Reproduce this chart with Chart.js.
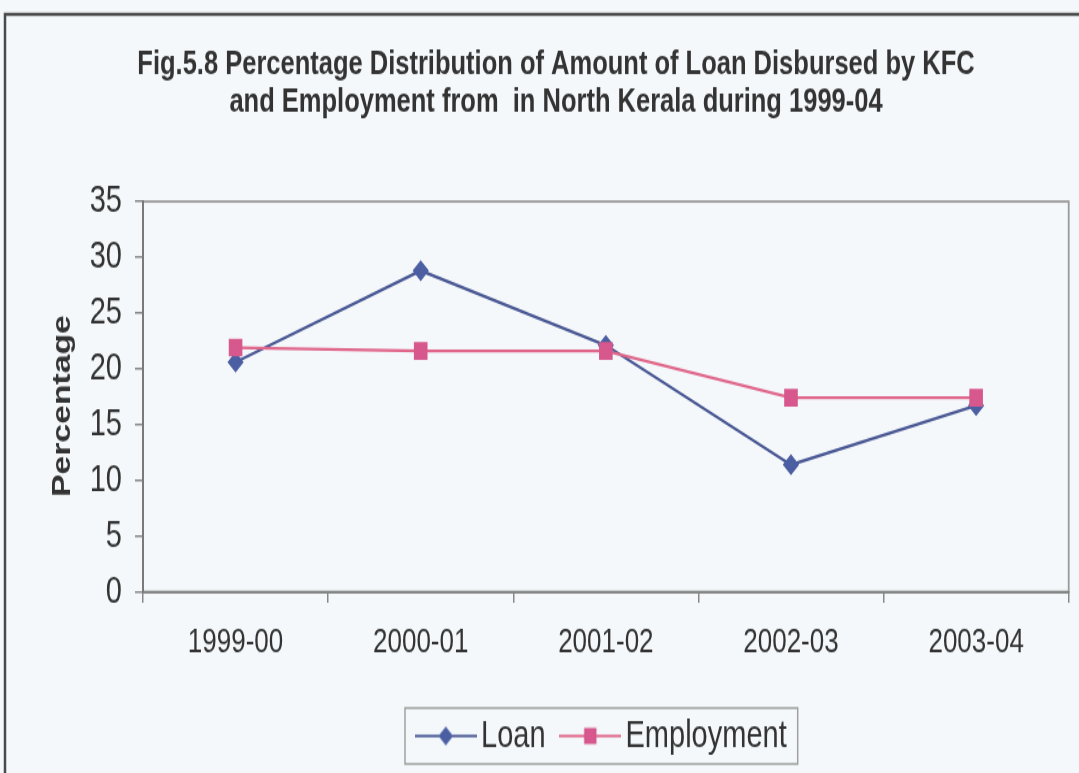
<!DOCTYPE html>
<html>
<head>
<meta charset="utf-8">
<script src="https://cdn.jsdelivr.net/npm/chart.js@4/dist/chart.umd.min.js"></script>
<style>
  html, body { margin: 0; padding: 0; background: #f4f8fb; overflow: hidden; }
  /* the scanned figure is stretched vertically (~1.3x), so the canvas is drawn
     at 1079x595 and shown at 1079x773 */
  #chart { display: block; width: 1079px; height: 773px; }
</style>
</head>
<body>
<canvas id="chart" width="1079" height="595" style="width:1079px;height:773px"></canvas>
<script>
// data
const years = ['1999-00', '2000-01', '2001-02', '2002-03', '2003-04'];
const loanPct = [20.6, 28.8, 22.1, 11.4, 16.7];
const employmentPct = [21.9, 21.6, 21.6, 17.4, 17.4];
const titleLines = [
    'Fig.5.8 Percentage Distribution of Amount of Loan Disbursed by KFC',
    'and Employment from  in North Kerala during 1999-04'
];

const LOAN_LINE = '#4a5894';
const LOAN_MARK = '#4c5fa3';
const EMP_LINE = '#e0668a';
const EMP_MARK = '#d6588d';
const TEXT = '#333333';
const FONT = '"Liberation Sans", Arial, sans-serif';

// little line+marker swatch for the legend, like Excel draws it
function legendSwatch(lineColor, markColor, style, radius) {
    const c = document.createElement('canvas');
    c.width = 62;
    c.height = 18;
    const g = c.getContext('2d');
    g.strokeStyle = lineColor;
    g.lineWidth = 1.8;
    g.beginPath();
    g.moveTo(0, 9);
    g.lineTo(62, 9);
    g.stroke();
    g.fillStyle = markColor;
    g.strokeStyle = markColor;
    Chart.helpers.drawPoint(g, { pointStyle: style, radius: radius, borderWidth: 1, rotation: 0 }, 31, 9);
    return c;
}

const frame = {
    id: 'frame',
    beforeDraw(chart) {
        const ctx = chart.ctx;
        ctx.save();
        ctx.fillStyle = '#f4f8fb';
        ctx.fillRect(0, 0, chart.width, chart.height);
        // outer chart border (only top and left are in the photo)
        ctx.strokeStyle = '#4a4a4a';
        ctx.lineWidth = 2.5;
        ctx.beginPath();
        ctx.moveTo(5, chart.height + 5);
        ctx.lineTo(5, 11);
        ctx.lineTo(chart.width + 5, 11);
        ctx.stroke();
        // plot area border
        const a = chart.chartArea;
        ctx.strokeStyle = '#9a9a9a';
        ctx.lineWidth = 1.8;
        ctx.strokeRect(a.left, a.top, a.right - a.left, a.bottom - a.top);
        ctx.restore();
    },
    afterDraw(chart) {
        const lg = chart.legend;
        if (!lg || !lg.legendHitBoxes.length) return;
        const boxes = lg.legendHitBoxes;
        const l = Math.min(...boxes.map(b => b.left)) - 20;
        const r = Math.max(...boxes.map(b => b.left + b.width)) + 11;
        const t = Math.min(...boxes.map(b => b.top)) - 7;
        const bt = Math.max(...boxes.map(b => b.top + b.height)) + 7;
        const ctx = chart.ctx;
        ctx.save();
        ctx.strokeStyle = '#a0a0a0';
        ctx.lineWidth = 1.5;
        ctx.strokeRect(l, t, r - l, bt - t);
        ctx.restore();
    }
};

const swatches = [
    legendSwatch(LOAN_LINE, LOAN_MARK, 'rectRot', 6),
    legendSwatch(EMP_LINE, EMP_MARK, 'rect', 7.5)
];

new Chart(document.getElementById('chart'), {
    type: 'line',
    data: {
        labels: years,
        datasets: [
            {
                label: 'Loan',
                data: loanPct,
                borderColor: LOAN_LINE,
                backgroundColor: LOAN_MARK,
                borderWidth: 2.3,
                pointStyle: 'rectRot',
                pointRadius: 6.5,
                pointBackgroundColor: LOAN_MARK,
                pointBorderColor: LOAN_MARK,
                tension: 0,
                order: 1
            },
            {
                label: 'Employment',
                data: employmentPct,
                borderColor: EMP_LINE,
                backgroundColor: EMP_MARK,
                borderWidth: 2.3,
                pointStyle: 'rect',
                pointRadius: 8,
                pointBackgroundColor: EMP_MARK,
                pointBorderColor: EMP_MARK,
                tension: 0,
                order: 0
            }
        ]
    },
    options: {
        responsive: false,
        animation: false,
        devicePixelRatio: 1,
        layout: { padding: { top: 0, left: 43, right: 10, bottom: 4 } },
        plugins: {
            title: {
                display: true,
                text: titleLines,
                color: TEXT,
                font: { family: FONT, size: 25.5, weight: 'bold', lineHeight: 1.12 },
                padding: { top: 36, bottom: 62 }
            },
            legend: {
                position: 'bottom',
                fullSize: false,
                labels: {
                    color: TEXT,
                    font: { family: FONT, size: 29 },
                    usePointStyle: true,
                    pointStyleWidth: 41.5,
                    padding: 24,
                    sort: (a, b) => a.datasetIndex - b.datasetIndex,
                    generateLabels(chart) {
                        const items = Chart.defaults.plugins.legend.labels.generateLabels(chart);
                        items.forEach(it => { it.pointStyle = swatches[it.datasetIndex]; });
                        return items;
                    }
                }
            },
            tooltip: { enabled: false }
        },
        scales: {
            x: {
                offset: true,
                afterFit(scale) { scale.height = 72.5; },
                grid: {
                    offset: true,
                    drawOnChartArea: false,
                    drawTicks: true,
                    tickLength: 8.5,
                    color: '#888888',
                    lineWidth: 1.5
                },
                border: { color: '#7a7a7a', width: 1.8 },
                ticks: {
                    color: TEXT,
                    padding: 15,
                    font: { family: FONT, size: 26 },
                    maxRotation: 0
                }
            },
            y: {
                min: 0,
                max: 35,
                afterFit(scale) { scale.width = 100; },
                grid: {
                    drawOnChartArea: false,
                    drawTicks: true,
                    tickLength: 8,
                    color: '#888888',
                    lineWidth: 1.5
                },
                border: { color: '#7a7a7a', width: 2 },
                ticks: {
                    stepSize: 5,
                    color: TEXT,
                    padding: 13,
                    font: { family: FONT, size: 29 }
                },
                title: {
                    display: true,
                    text: 'Percentage  ',
                    color: TEXT,
                    font: { family: FONT, size: 26, weight: 'bold' },
                    padding: { top: 4, bottom: 4 }
                }
            }
        }
    },
    plugins: [frame]
});
</script>
</body>
</html>
